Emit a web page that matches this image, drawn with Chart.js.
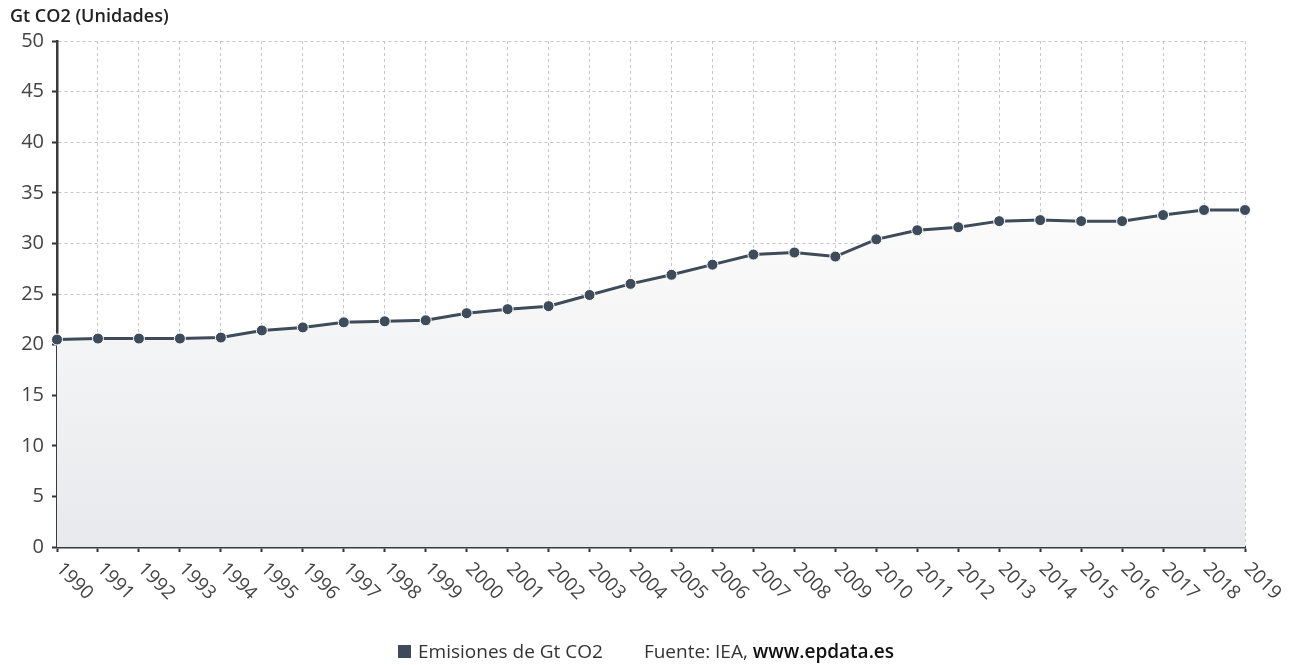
<!DOCTYPE html>
<html><head><meta charset="utf-8">
<script src="https://cdn.jsdelivr.net/npm/chart.js@4"></script>
<style>
html,body{margin:0;padding:0;background:#fff;}
#wrap{position:relative;width:1295px;height:665px;font-family:"Open Sans",sans-serif;}
#c{position:absolute;left:0;top:0;}
#title{position:absolute;left:10px;top:3px;font-size:18px;font-weight:600;color:#222;}
#leg{position:absolute;left:398px;top:638px;font-size:19px;color:#333;white-space:nowrap;}
#leg .sq{display:inline-block;width:13px;height:13px;background:#3d4b5a;margin-right:7px;vertical-align:0px;}
#leg .src{margin-left:41px;}
#leg b{font-weight:600;color:#111;}
</style></head>
<body><div id="wrap">
<canvas id="c" width="1295" height="665"></canvas>
<div id="title">Gt CO2 (Unidades)</div>
<div id="leg"><span class="sq"></span>Emisiones de Gt CO2<span class="src">Fuente: IEA, <b>www.epdata.es</b></span></div>
</div>
<script>
const years = ["1990","1991","1992","1993","1994","1995","1996","1997","1998","1999","2000","2001","2002","2003","2004","2005","2006","2007","2008","2009","2010","2011","2012","2013","2014","2015","2016","2017","2018","2019"];
const emissions = [20.5,20.6,20.6,20.6,20.7,21.4,21.7,22.2,22.3,22.4,23.1,23.5,23.8,24.9,26.0,26.9,27.9,28.9,29.1,28.7,30.4,31.3,31.6,32.2,32.3,32.2,32.2,32.8,33.3,33.3];
const seriesName = "Emisiones de Gt CO2";
const yMin = 0, yMax = 50, yStep = 5;

const xLabelPlugin = {
  id: 'xLabels',
  afterDraw(chart) {
    const ctx = chart.ctx, xs = chart.scales.x;
    ctx.save();
    ctx.font = '19px "Open Sans"';
    ctx.fillStyle = '#444';
    ctx.textAlign = 'left';
    ctx.textBaseline = 'middle';
    years.forEach((lab, i) => {
      const x = xs.getPixelForValue(i);
      ctx.save();
      ctx.translate(x + 2, chart.chartArea.bottom + 19);
      ctx.rotate(Math.PI / 4);
      ctx.fillText(lab, 0, 0);
      ctx.restore();
    });
    ctx.restore();
  }
};

new Chart(document.getElementById('c'), {
  type: 'line',
  data: {
    labels: years,
    datasets: [{
      label: seriesName,
      data: emissions,
      borderColor: '#3d4b5a',
      borderWidth: 3,
      pointRadius: 5.5,
      pointBackgroundColor: '#3d4b5a',
      pointBorderColor: '#ffffff',
      pointBorderWidth: 1,
      tension: 0,
      fill: 'origin',
      backgroundColor: (ctx) => {
        const ca = ctx.chart.chartArea;
        if (!ca) return '#f0f0f2';
        const g = ctx.chart.ctx.createLinearGradient(0, ca.top + 160, 0, ca.bottom);
        g.addColorStop(0, '#fcfcfc');
        g.addColorStop(1, '#e8e9ec');
        return g;
      }
    }]
  },
  options: {
    responsive: false,
    animation: false,
    layout: { padding: { top: 41, right: 50, left: 0, bottom: 0 } },
    plugins: { legend: { display: false }, tooltip: { enabled: false } },
    scales: {
      x: {
        type: 'category',
        offset: false,
        ticks: { display: false },
        grid: { color: '#c6c6c6', lineWidth: 1, tickLength: 5, tickColor: '#333', tickWidth: 2 },
        border: { display: true, color: '#3a3a3a', width: 2.5, dash: [3, 3] },
        afterFit(s) { s.height = 118; }
      },
      y: {
        min: yMin, max: yMax,
        ticks: { stepSize: yStep, font: { size: 20, family: '"Open Sans"' }, color: '#444', padding: 8 },
        grid: { color: '#c6c6c6', lineWidth: 1, tickLength: 5, tickColor: '#333', tickWidth: 2 },
        border: { display: true, color: '#3a3a3a', width: 2.5, dash: [3, 3] },
        afterFit(s) { s.width = 57; }
      }
    }
  },
  plugins: [xLabelPlugin]
});
</script>
</body></html>
